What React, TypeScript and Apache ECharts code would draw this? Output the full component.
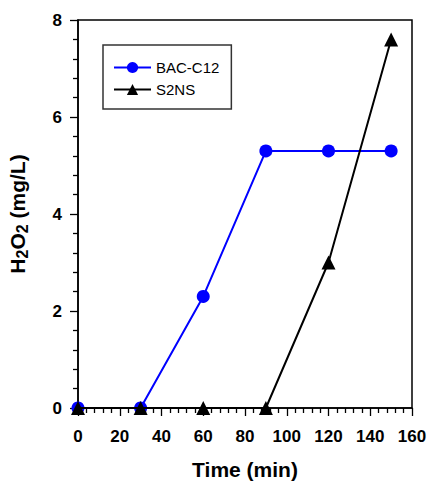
import React, { useEffect, useRef } from "react";
import * as echarts from "echarts";

const timeMin = [0, 30, 60, 90, 120, 150];
const bacC12 = [0, 0, 2.3, 5.3, 5.3, 5.3];
const s2ns = [0, 0, 0, 0, 3.0, 7.6];
const seriesNames = ["BAC-C12", "S2NS"];
const xTitle = "Time (min)";

const FONT = "'Liberation Sans', Arial, sans-serif";

export default function App() {
  const ref = useRef<HTMLDivElement>(null);
  useEffect(() => {
    if (!ref.current) return;
    const chart = echarts.init(ref.current, undefined, { renderer: "svg" });
    const axisCommon = {
      axisLine: { show: true, onZero: false, lineStyle: { color: "#000", width: 1.5 } },
      axisTick: { show: true, inside: false, length: 8, lineStyle: { color: "#000", width: 1.3 } },
      minorTick: { show: true, splitNumber: 5, length: 5, lineStyle: { color: "#000", width: 1.3 } },
      splitLine: { show: false },
      axisLabel: { color: "#000", fontFamily: FONT, fontWeight: "bold", fontSize: 17 },
    };
    chart.setOption({
      animation: false,
      backgroundColor: "#fff",
      grid: {
        left: 78,
        right: 17,
        top: 20,
        bottom: 74,
        show: true,
        borderColor: "#000",
        borderWidth: 1.5,
        containLabel: false,
        outerBoundsMode: "none",
      },
      legend: {
        show: true,
        orient: "vertical",
        left: 103,
        top: 45,
        padding: [15, 12, 12, 10],
        itemGap: 7,
        itemWidth: 37,
        itemHeight: 14,
        borderColor: "#333",
        borderWidth: 1.5,
        textStyle: { color: "#000", fontFamily: FONT, fontSize: 15 },
        data: seriesNames,
      },
      xAxis: {
        type: "value",
        min: 0,
        max: 160,
        interval: 20,
        ...axisCommon,
        axisLabel: { ...axisCommon.axisLabel, margin: 20 },
        name: xTitle,
        nameLocation: "middle",
        nameGap: 51,
        nameTextStyle: { color: "#000", fontFamily: FONT, fontWeight: "bold", fontSize: 21 },
      },
      yAxis: {
        type: "value",
        min: 0,
        max: 8,
        interval: 2,
        ...axisCommon,
        axisLabel: { ...axisCommon.axisLabel, margin: 16 },
        name: "{n|H}{s|2}{n|O}{s|2}{n| (mg/L)}",
        nameLocation: "middle",
        nameGap: 48,
        nameRotate: 90,
        nameTextStyle: {
          color: "#000",
          fontFamily: FONT,
          fontWeight: "bold",
          fontSize: 21,
          rich: {
            n: { fontFamily: FONT, fontWeight: "bold", fontSize: 21, color: "#000" },
            s: { fontFamily: FONT, fontWeight: "bold", fontSize: 16, color: "#000", padding: [9, 0, 0, 0] },
          },
        },
      },
      series: [
        {
          name: seriesNames[0],
          type: "line",
          data: timeMin.map((t, i) => [t, bacC12[i]]),
          symbol: "circle",
          symbolSize: 13,
          clip: false,
          itemStyle: { color: "#0000ff" },
          lineStyle: { color: "#0000ff", width: 2 },
          z: 2,
        },
        {
          name: seriesNames[1],
          type: "line",
          data: timeMin.map((t, i) => [t, s2ns[i]]),
          symbol: "triangle",
          symbolSize: 14,
          clip: false,
          itemStyle: { color: "#000" },
          lineStyle: { color: "#000", width: 2 },
          z: 3,
        },
      ],
    });
    return () => chart.dispose();
  }, []);
  return <div ref={ref} style={{ width: 429, height: 482, position: "absolute", left: 0, top: 0 }} />;
}
